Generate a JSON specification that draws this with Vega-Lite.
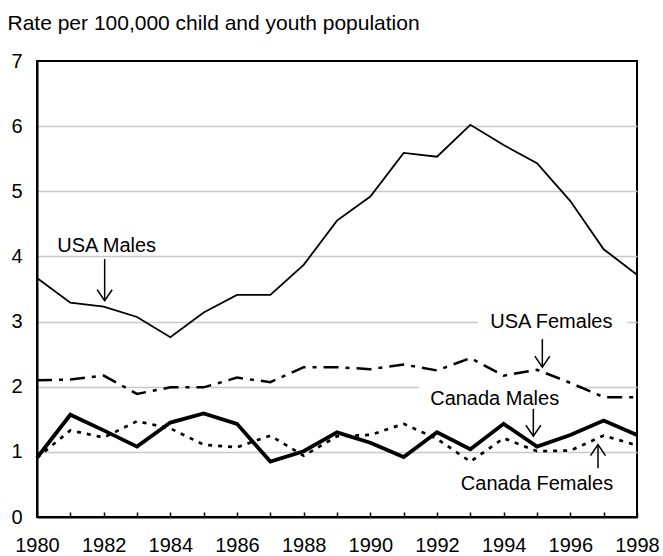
{
  "$schema": "https://vega.github.io/schema/vega-lite/v6.json",
  "width": 600,
  "height": 456,
  "autosize": "none",
  "padding": {"left": 37, "top": 61, "right": 26, "bottom": 39},
  "background": "white",
  "config": {
    "view": {"stroke": "black", "strokeWidth": 2},
    "font": "Liberation Sans"
  },
  "datasets": {
    "series": [
      {"year": 1980, "value": 3.67, "series": "USA Males"},
      {"year": 1981, "value": 3.29, "series": "USA Males"},
      {"year": 1982, "value": 3.23, "series": "USA Males"},
      {"year": 1983, "value": 3.07, "series": "USA Males"},
      {"year": 1984, "value": 2.76, "series": "USA Males"},
      {"year": 1985, "value": 3.14, "series": "USA Males"},
      {"year": 1986, "value": 3.41, "series": "USA Males"},
      {"year": 1987, "value": 3.41, "series": "USA Males"},
      {"year": 1988, "value": 3.87, "series": "USA Males"},
      {"year": 1989, "value": 4.55, "series": "USA Males"},
      {"year": 1990, "value": 4.92, "series": "USA Males"},
      {"year": 1991, "value": 5.59, "series": "USA Males"},
      {"year": 1992, "value": 5.53, "series": "USA Males"},
      {"year": 1993, "value": 6.02, "series": "USA Males"},
      {"year": 1994, "value": 5.71, "series": "USA Males"},
      {"year": 1995, "value": 5.43, "series": "USA Males"},
      {"year": 1996, "value": 4.85, "series": "USA Males"},
      {"year": 1997, "value": 4.11, "series": "USA Males"},
      {"year": 1998, "value": 3.72, "series": "USA Males"},
      {"year": 1980, "value": 2.10, "series": "USA Females"},
      {"year": 1981, "value": 2.11, "series": "USA Females"},
      {"year": 1982, "value": 2.17, "series": "USA Females"},
      {"year": 1983, "value": 1.89, "series": "USA Females"},
      {"year": 1984, "value": 1.99, "series": "USA Females"},
      {"year": 1985, "value": 1.99, "series": "USA Females"},
      {"year": 1986, "value": 2.14, "series": "USA Females"},
      {"year": 1987, "value": 2.07, "series": "USA Females"},
      {"year": 1988, "value": 2.30, "series": "USA Females"},
      {"year": 1989, "value": 2.30, "series": "USA Females"},
      {"year": 1990, "value": 2.27, "series": "USA Females"},
      {"year": 1991, "value": 2.34, "series": "USA Females"},
      {"year": 1992, "value": 2.25, "series": "USA Females"},
      {"year": 1993, "value": 2.44, "series": "USA Females"},
      {"year": 1994, "value": 2.17, "series": "USA Females"},
      {"year": 1995, "value": 2.26, "series": "USA Females"},
      {"year": 1996, "value": 2.06, "series": "USA Females"},
      {"year": 1997, "value": 1.84, "series": "USA Females"},
      {"year": 1998, "value": 1.84, "series": "USA Females"},
      {"year": 1980, "value": 0.91, "series": "Canada Males"},
      {"year": 1981, "value": 1.57, "series": "Canada Males"},
      {"year": 1982, "value": 1.33, "series": "Canada Males"},
      {"year": 1983, "value": 1.08, "series": "Canada Males"},
      {"year": 1984, "value": 1.45, "series": "Canada Males"},
      {"year": 1985, "value": 1.59, "series": "Canada Males"},
      {"year": 1986, "value": 1.43, "series": "Canada Males"},
      {"year": 1987, "value": 0.85, "series": "Canada Males"},
      {"year": 1988, "value": 1.01, "series": "Canada Males"},
      {"year": 1989, "value": 1.30, "series": "Canada Males"},
      {"year": 1990, "value": 1.14, "series": "Canada Males"},
      {"year": 1991, "value": 0.92, "series": "Canada Males"},
      {"year": 1992, "value": 1.30, "series": "Canada Males"},
      {"year": 1993, "value": 1.04, "series": "Canada Males"},
      {"year": 1994, "value": 1.43, "series": "Canada Males"},
      {"year": 1995, "value": 1.08, "series": "Canada Males"},
      {"year": 1996, "value": 1.26, "series": "Canada Males"},
      {"year": 1997, "value": 1.48, "series": "Canada Males"},
      {"year": 1998, "value": 1.26, "series": "Canada Males"},
      {"year": 1980, "value": 0.91, "series": "Canada Females"},
      {"year": 1981, "value": 1.33, "series": "Canada Females"},
      {"year": 1982, "value": 1.22, "series": "Canada Females"},
      {"year": 1983, "value": 1.47, "series": "Canada Females"},
      {"year": 1984, "value": 1.36, "series": "Canada Females"},
      {"year": 1985, "value": 1.11, "series": "Canada Females"},
      {"year": 1986, "value": 1.07, "series": "Canada Females"},
      {"year": 1987, "value": 1.25, "series": "Canada Females"},
      {"year": 1988, "value": 0.94, "series": "Canada Females"},
      {"year": 1989, "value": 1.24, "series": "Canada Females"},
      {"year": 1990, "value": 1.26, "series": "Canada Females"},
      {"year": 1991, "value": 1.43, "series": "Canada Females"},
      {"year": 1992, "value": 1.20, "series": "Canada Females"},
      {"year": 1993, "value": 0.85, "series": "Canada Females"},
      {"year": 1994, "value": 1.21, "series": "Canada Females"},
      {"year": 1995, "value": 1.01, "series": "Canada Females"},
      {"year": 1996, "value": 1.02, "series": "Canada Females"},
      {"year": 1997, "value": 1.25, "series": "Canada Females"},
      {"year": 1998, "value": 1.10, "series": "Canada Females"}
    ],
    "boxes": [
      {"year": 1993.23, "year2": 1997.71, "value": 2.80, "value2": 3.20},
      {"year": 1991.46, "year2": 1996.14, "value": 1.62, "value2": 2.02}
    ],
    "arrows": [
      {"year": 1982.03, "value": 3.96, "value2": 3.32},
      {"year": 1995.16, "value": 2.73, "value2": 2.30},
      {"year": 1994.89, "value": 1.66, "value2": 1.24},
      {"year": 1996.83, "value": 0.75, "value2": 1.11}
    ],
    "heads": [
      {"year": 1982.03, "value": 3.32, "dir": "down"},
      {"year": 1995.16, "value": 2.30, "dir": "down"},
      {"year": 1994.89, "value": 1.24, "dir": "down"},
      {"year": 1996.83, "value": 1.11, "dir": "up"}
    ],
    "labels": [
      {"year": 1982.09, "value": 4.07, "label": "USA Males"},
      {"year": 1995.43, "value": 2.90, "label": "USA Females"},
      {"year": 1993.73, "value": 1.72, "label": "Canada Males"},
      {"year": 1995.0, "value": 0.41, "label": "Canada Females"}
    ]
  },
  "encoding": {
    "x": {
      "field": "year",
      "type": "quantitative",
      "scale": {"domain": [1980, 1998], "nice": false, "zero": false},
      "axis": {
        "values": [1980,1981,1982,1983,1984,1985,1986,1987,1988,1989,1990,1991,1992,1993,1994,1995,1996,1997,1998],
        "format": "d",
        "labelExpr": "datum.value % 2 === 0 ? datum.label : ''",
        "title": null,
        "grid": false,
        "ticks": true,
        "tickSize": -5,
        "tickColor": "black",
        "tickWidth": 1.5,
        "domainColor": "black",
        "domainWidth": 2,
        "labelFontSize": 20,
        "labelFont": "Liberation Sans",
        "labelColor": "black",
        "labelPadding": 23,
        "labelFlush": false,
        "labelOverlap": false,
        "labelBound": false
      }
    },
    "y": {
      "field": "value",
      "type": "quantitative",
      "scale": {"domain": [0, 7], "nice": false, "zero": true},
      "axis": {
        "values": [0,1,2,3,4,5,6,7],
        "title": "Rate per 100,000 child and youth population",
        "titleAngle": 0,
        "titleAlign": "left",
        "titleBaseline": "alphabetic",
        "titleX": -30,
        "titleY": -32,
        "titleFontSize": 21,
        "titleFontWeight": "normal",
        "titleFont": "Liberation Sans",
        "titleColor": "black",
        "grid": true,
        "gridColor": "#c8c8c8",
        "gridWidth": 1.5,
        "gridOpacity": {"condition": {"test": "datum.value === 0 || datum.value === 7", "value": 0}, "value": 1},
        "ticks": false,
        "tickSize": 0,
        "domainColor": "black",
        "domainWidth": 2,
        "labelFontSize": 20,
        "labelFont": "Liberation Sans",
        "labelColor": "black",
        "labelPadding": 15,
        "labelFlush": false,
        "labelOverlap": false,
        "labelBound": false
      }
    }
  },
  "layer": [
    {
      "data": {"name": "boxes"},
      "mark": {"type": "rect", "fill": "white", "stroke": null},
      "encoding": {
        "x2": {"field": "year2"},
        "y2": {"field": "value2"}
      }
    },
    {
      "data": {"name": "series"},
      "transform": [{"filter": "datum.series === 'USA Males'"}],
      "mark": {"type": "line", "color": "black", "strokeWidth": 1.8}
    },
    {
      "data": {"name": "series"},
      "transform": [{"filter": "datum.series === 'USA Females'"}],
      "mark": {"type": "line", "color": "black", "strokeWidth": 2.5, "strokeDash": [15, 7, 4, 7]}
    },
    {
      "data": {"name": "series"},
      "transform": [{"filter": "datum.series === 'Canada Females'"}],
      "mark": {"type": "line", "color": "black", "strokeWidth": 2.7, "strokeDash": [4, 6]}
    },
    {
      "data": {"name": "series"},
      "transform": [{"filter": "datum.series === 'Canada Males'"}],
      "mark": {"type": "line", "color": "black", "strokeWidth": 3.8}
    },
    {
      "data": {"name": "arrows"},
      "mark": {"type": "rule", "color": "black", "strokeWidth": 1.5},
      "encoding": {
        "y2": {"field": "value2"}
      }
    },
    {
      "data": {"name": "heads"},
      "transform": [{"filter": "datum.dir === 'down'"}],
      "mark": {"type": "point", "shape": "M-0.68,-1L0,0L0.68,-1", "filled": false, "size": 484, "stroke": "black", "strokeWidth": 1.5, "opacity": 1}
    },
    {
      "data": {"name": "heads"},
      "transform": [{"filter": "datum.dir === 'up'"}],
      "mark": {"type": "point", "shape": "M-0.68,1L0,0L0.68,1", "filled": false, "size": 484, "stroke": "black", "strokeWidth": 1.5, "opacity": 1}
    },
    {
      "data": {"name": "labels"},
      "mark": {"type": "text", "font": "Liberation Sans", "fontSize": 20, "color": "black", "align": "center", "baseline": "alphabetic"},
      "encoding": {
        "text": {"field": "label"}
      }
    }
  ]
}
